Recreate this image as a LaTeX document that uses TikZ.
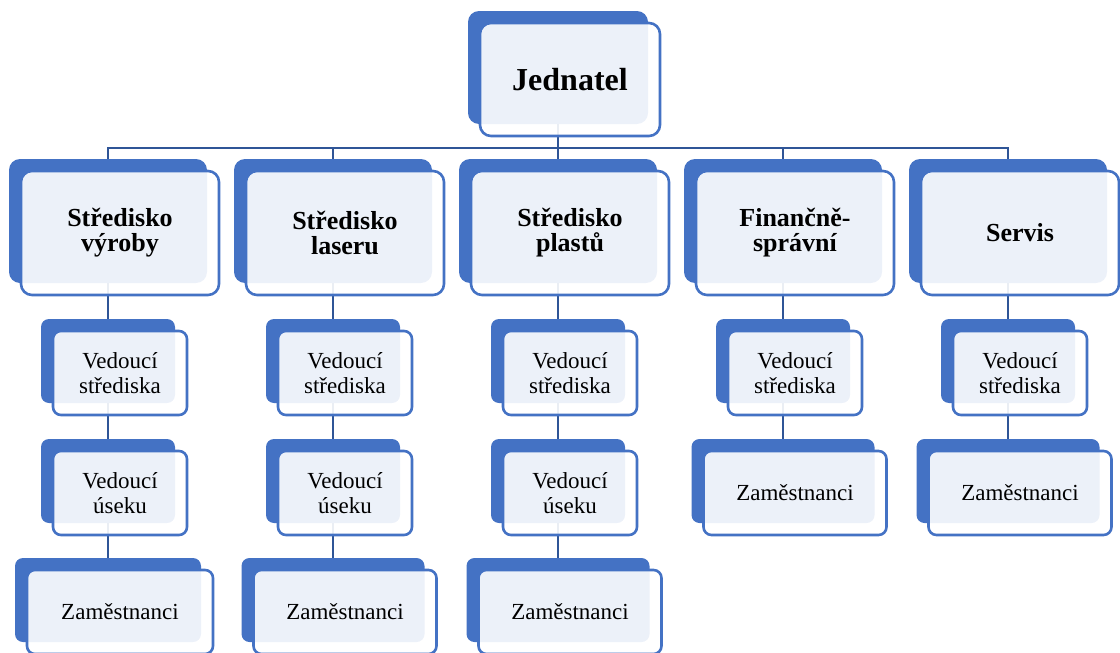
\documentclass[tikz,border=0pt]{standalone}
\usepackage{fontspec}
\setmainfont{Liberation Serif}
\definecolor{accent}{HTML}{4472C4}
\definecolor{conn}{HTML}{2F5597}
\pgfdeclarelayer{backl}
\pgfdeclarelayer{connl}
\pgfsetlayers{backl,connl,main}
\tikzset{
  backbox/.style={rectangle, fill=accent, inner sep=0pt, outer sep=0pt},
  frontbox/.style={rectangle, draw=accent, line width=2.6pt, fill=white, fill opacity=0.9, text opacity=1, inner sep=0pt, outer sep=0pt, align=center},
  connector/.style={draw=conn, line width=2.6pt},
  topfont/.style={font=\fontsize{32}{36}\selectfont\bfseries},
  secfont/.style={font=\fontsize{26}{25}\selectfont\bfseries},
  subfont/.style={font=\fontsize{23}{25}\selectfont},
}
% name, center x, top y, width, height, radius, style, text
\newcommand\orgunit[8]{%
  \begin{pgfonlayer}{backl}
    \node[backbox, rounded corners=#6pt, minimum width=#4pt, minimum height=#5pt] (#1) at (#2,{#3+#5/2}) {};
  \end{pgfonlayer}
  \node[frontbox, #7, rounded corners=#6pt, minimum width=#4pt, minimum height=#5pt] (#1f) at ({#2+12},{#3+#5/2+12}) {#8};
}
\begin{document}
\begin{tikzpicture}[x=1pt,y=-1pt]
\useasboundingbox (0,0) rectangle (1120,653);
% top
\orgunit{top}{558}{11}{180}{113}{11}{topfont}{Jednatel}
% level 2
\orgunit{s1}{108}{159}{198}{124}{11}{secfont}{Středisko\\výroby}
\orgunit{s2}{333}{159}{198}{124}{11}{secfont}{Středisko\\laseru}
\orgunit{s3}{558}{159}{198}{124}{11}{secfont}{Středisko\\plastů}
\orgunit{s4}{783}{159}{198}{124}{11}{secfont}{Finančně-\\správní}
\orgunit{s5}{1008}{159}{198}{124}{11}{secfont}{Servis}
% level 3
\orgunit{v1}{108}{319}{134}{84}{8}{subfont}{Vedoucí\\střediska}
\orgunit{v2}{333}{319}{134}{84}{8}{subfont}{Vedoucí\\střediska}
\orgunit{v3}{558}{319}{134}{84}{8}{subfont}{Vedoucí\\střediska}
\orgunit{v4}{783}{319}{134}{84}{8}{subfont}{Vedoucí\\střediska}
\orgunit{v5}{1008}{319}{134}{84}{8}{subfont}{Vedoucí\\střediska}
% level 4
\orgunit{u1}{108}{439}{134}{84}{8}{subfont}{Vedoucí\\úseku}
\orgunit{u2}{333}{439}{134}{84}{8}{subfont}{Vedoucí\\úseku}
\orgunit{u3}{558}{439}{134}{84}{8}{subfont}{Vedoucí\\úseku}
\orgunit{z4}{783}{439}{183}{84}{8}{subfont}{Zaměstnanci}
\orgunit{z5}{1008}{439}{183}{84}{8}{subfont}{Zaměstnanci}
% level 5
\orgunit{z1}{108}{558}{186}{84}{8}{subfont}{Zaměstnanci}
\orgunit{z2}{333}{558}{183}{84}{8}{subfont}{Zaměstnanci}
\orgunit{z3}{558}{558}{183}{84}{8}{subfont}{Zaměstnanci}
% connectors
\begin{pgfonlayer}{connl}
  \foreach \i in {1,...,5} {
    \draw[connector] (top.south) -- ++(0,24) -| (s\i.north);
  }
  \foreach \i in {1,...,5} {
    \draw[connector] (s\i.south) -- (v\i.north);
  }
  \foreach \i in {1,2,3} {
    \draw[connector] (v\i.south) -- (u\i.north);
    \draw[connector] (u\i.south) -- (z\i.north);
  }
  \foreach \i in {4,5} {
    \draw[connector] (v\i.south) -- (z\i.north);
  }
\end{pgfonlayer}
\end{tikzpicture}
\end{document}
